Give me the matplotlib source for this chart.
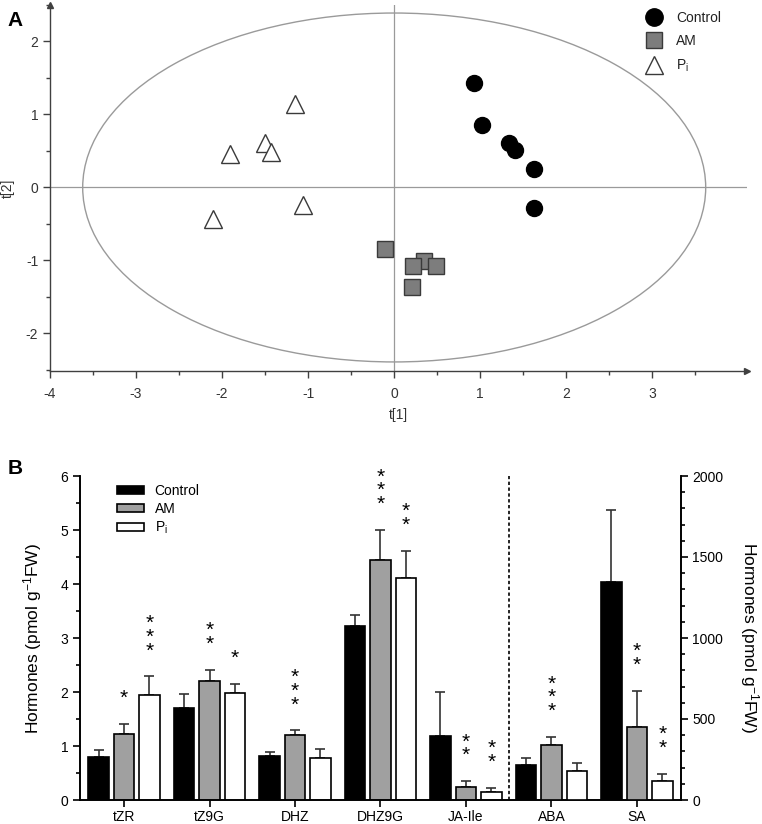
import matplotlib
matplotlib.use('Agg')
import matplotlib.pyplot as plt
import numpy as np
from matplotlib.patches import Ellipse, Patch
from matplotlib.lines import Line2D

plt.rcParams['font.family'] = ['Liberation Sans', 'DejaVu Sans']
plt.rcParams['mathtext.fontset'] = 'custom'
plt.rcParams['mathtext.rm'] = 'Liberation Sans'
plt.rcParams['mathtext.it'] = 'Liberation Sans:italic'
plt.rcParams['axes.unicode_minus'] = False

# ---------------- Panel A data (score plot) ----------------
ctrl_t1 = [0.93, 1.02, 1.33, 1.40, 1.63, 1.63]
ctrl_t2 = [1.43, 0.86, 0.61, 0.51, 0.26, -0.28]
am_t1 = [0.35, -0.11, 0.215, 0.48, 0.21]
am_t2 = [-1.01, -0.84, -1.07, -1.08, -1.37]
pi_t1 = [-1.15, -1.50, -1.43, -1.91, -1.06, -2.11]
pi_t2 = [1.14, 0.61, 0.48, 0.46, -0.24, -0.43]
ellipse_semi_t1 = 3.62
ellipse_semi_t2 = 2.39
a_xticks = [-4, -3, -2, -1, 0, 1, 2, 3]
a_yticks = [-2, -1, 0, 1, 2]

# ---------------- Panel B data (hormones) ----------------
categories = ['tZR', 'tZ9G', 'DHZ', 'DHZ9G', 'JA-Ile', 'ABA', 'SA']
n_left = 5  # first five on left axis, rest on right axis
ctrl_mean = [0.80, 1.71, 0.82, 3.22, 1.19, 213, 1343]
ctrl_err = [0.13, 0.25, 0.07, 0.20, 0.81, 47, 447]
am_mean = [1.22, 2.20, 1.20, 4.44, 0.235, 338, 453]
am_err = [0.19, 0.21, 0.09, 0.56, 0.115, 51, 221]
pi_mean = [1.95, 1.99, 0.78, 4.12, 0.14, 180, 115]
pi_err = [0.34, 0.16, 0.16, 0.50, 0.09, 50, 47]
ctrl_stars = [0, 0, 0, 0, 0, 0, 0]
am_stars = [1, 2, 3, 3, 2, 3, 2]
pi_stars = [3, 1, 0, 2, 2, 0, 2]
group_labels = ['Control', 'AM', 'P$_\\mathrm{i}$']

fig = plt.figure(figsize=(7.62, 8.24), dpi=100)

# =============== Panel A =================
axA = fig.add_axes([50 / 762, 1 - 370.7 / 824, (747 - 50) / 762, (370.7 - 5) / 824])
axA.set_xlim(-4, 4.1)
axA.set_ylim(-2.51, 2.49)
for s in ['top', 'right']:
    axA.spines[s].set_visible(False)
spc = '#404040'
for s in ['left', 'bottom']:
    axA.spines[s].set_color(spc)
    axA.spines[s].set_linewidth(1.0)
axA.plot(1, 0, '>', color=spc, ms=5, transform=axA.transAxes, clip_on=False)
axA.plot(0, 1, '^', color=spc, ms=5, transform=axA.transAxes, clip_on=False)

axA.axhline(0, color='#9a9a9a', lw=0.9, zorder=1)
axA.axvline(0, color='#9a9a9a', lw=0.9, zorder=1)
axA.add_patch(Ellipse((0, 0), 2 * ellipse_semi_t1, 2 * ellipse_semi_t2,
                      fill=False, ec='#9a9a9a', lw=1.0, zorder=1))

axA.plot(ctrl_t1, ctrl_t2, 'o', ls='', mfc='black', mec='black', ms=11.5, zorder=3)
axA.plot(am_t1, am_t2, 's', ls='', mfc='#7d7d7d', mec='#3a3a3a', mew=1.0, ms=11.5, zorder=3)
axA.plot(pi_t1, pi_t2, '^', ls='', mfc='white', mec='#3a3a3a', mew=1.0, ms=12.5, zorder=3)

axA.set_xticks(a_xticks)
axA.set_yticks(a_yticks)
axA.set_xticks(np.arange(-3.5, 4.0, 1.0), minor=True)
axA.set_yticks(np.arange(-2.5, 2.6, 1.0), minor=True)
axA.tick_params(which='major', direction='out', length=5, width=1, color=spc,
                labelsize=10, labelcolor='#333333')
axA.tick_params(which='minor', direction='out', length=3, width=1, color=spc)
axA.tick_params(axis='x', pad=7)
axA.set_xlabel('t[1]', fontsize=10, color='#333333', labelpad=5)
axA.set_ylabel('t[2]', fontsize=10, color='#333333', labelpad=8)

legA = [Line2D([], [], marker='o', ls='', mfc='black', mec='black', ms=12.5),
        Line2D([], [], marker='s', ls='', mfc='#7d7d7d', mec='#3a3a3a', ms=12),
        Line2D([], [], marker='^', ls='', mfc='white', mec='#3a3a3a', ms=13)]
fig.legend(legA, group_labels, loc='upper left', bbox_to_anchor=(633 / 762, 1.002),
           frameon=False, fontsize=10, handlelength=1.2, handletextpad=1.0,
           labelspacing=0.68, labelcolor='#222222')

fig.text(15 / 762, 1 - 20 / 824, 'A', fontsize=15, fontweight='bold', ha='center', va='center')

# =============== Panel B =================
axB = fig.add_axes([80 / 762, 1 - 800 / 824, (680.5 - 80) / 762, (800 - 476) / 824])
axB2 = axB.twinx()
x = np.arange(len(categories))
off = 0.298
bw = 0.24
colors = ['black', '#a0a0a0', 'white']
means = [ctrl_mean, am_mean, pi_mean]
errs = [ctrl_err, am_err, pi_err]
stars = [ctrl_stars, am_stars, pi_stars]

for g in range(3):
    for i in range(len(categories)):
        ax = axB if i < n_left else axB2
        xi = x[i] + (g - 1) * off
        m = means[g][i]
        e = errs[g][i]
        ax.errorbar(xi, m, yerr=[[0], [e]], fmt='none', ecolor='#333333',
                    elinewidth=1.2, capsize=3.5, capthick=1.2, zorder=2)
        ax.bar(xi, m, width=bw, color=colors[g], edgecolor='black', linewidth=1.2, zorder=3)
        n = stars[g][i]
        if n:
            ax.annotate('\n'.join(['*'] * n), xy=(xi, m + e), xytext=(0, 11.5),
                        textcoords='offset points', ha='center', va='bottom',
                        fontsize=15, linespacing=0.65, zorder=4)

axB.set_xlim(-0.515, 6.51)
axB.set_ylim(0, 6)
axB2.set_ylim(0, 2000)
axB.axvline((n_left - 1 + n_left) / 2, color='black', lw=1.2, ls=(0, (2, 1.5)), zorder=1)

for s in ['top']:
    axB.spines[s].set_visible(False)
    axB2.spines[s].set_visible(False)
for a in (axB, axB2):
    for s in a.spines.values():
        s.set_linewidth(1.2)

axB.set_xticks(x)
axB.set_xticklabels(categories)
axB.set_yticks(np.arange(0, 7, 1))
axB.set_yticks(np.arange(0.5, 6, 1.0), minor=True)
axB2.set_yticks(np.arange(0, 2001, 500))
axB2.set_yticks(np.arange(100, 2000, 100), minor=True)
for a in (axB, axB2):
    a.tick_params(which='major', direction='out', length=5, width=1.2, labelsize=10)
    a.tick_params(which='minor', direction='out', length=3, width=1.2)
axB.tick_params(axis='x', pad=2)

ylab = 'Hormones (pmol g$^{-1}$FW)'
axB.set_ylabel(ylab, fontsize=12.5, labelpad=12)
axB2.set_ylabel(ylab, fontsize=12.5, rotation=270, labelpad=27)

legB = [Patch(facecolor=c, edgecolor='black', linewidth=1.2) for c in colors]
axB.legend(legB, group_labels, loc='upper left', bbox_to_anchor=(0.04, 1.015), frameon=False,
           fontsize=10, handlelength=1.95, handleheight=0.5, handletextpad=0.8, labelspacing=0.3)

fig.text(15 / 762, 1 - 468 / 824, 'B', fontsize=15, fontweight='bold', ha='center', va='center')

fig.savefig('out.png', dpi=100)
